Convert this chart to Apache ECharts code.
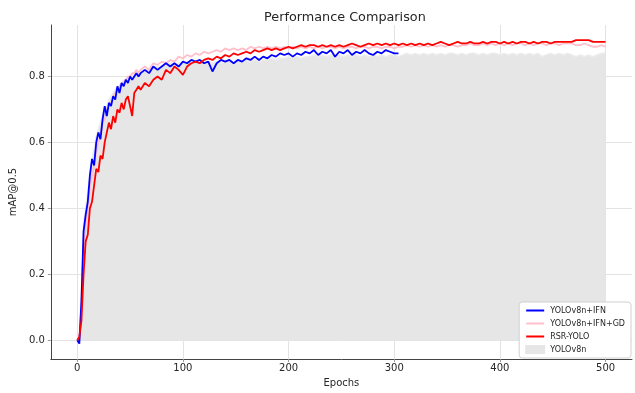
<!DOCTYPE html>
<html>
<head>
<meta charset="UTF-8">
<title>Performance Comparison</title>
<script src="https://cdn.jsdelivr.net/npm/echarts@6/dist/echarts.min.js"></script>
<style>
  html, body { margin: 0; padding: 0; background: #fff; }
  #main { width: 635px; height: 393px; }
</style>
</head>
<body>
<div id="main"></div>
<script type="text/javascript">
// epochs sampled from the curves (every 2 early, every 4 after)
var epochs = [0,2,4,6,8,10,12,14,16,18,20,22,24,26,28,30,32,34,36,38,40,42,44,46,48,50,52,54,56,58,60,
  64,68,72,76,80,84,88,92,96,100,
  104,108,112,116,120,124,128,132,136,140,
  144,148,152,156,160,164,168,172,176,180,
  184,188,192,196,200,204,208,212,216,220,
  224,228,232,236,240,244,248,252,256,260,
  264,268,272,276,280,284,288,292,296,300,
  304,308,312,316,320,324,328,332,336,340,
  344,348,352,356,360,364,368,372,376,380,
  384,388,392,396,400,404,408,412,416,420,
  424,428,432,436,440,444,448,452,456,460,
  464,468,472,476,480,484,488,492,496,500];

var ifnValues = [0.00,-0.01,0.12,0.33,0.38,0.42,0.50,0.55,0.53,0.60,0.63,0.61,0.67,0.71,0.68,0.72,0.71,0.74,0.73,0.77,0.75,0.78,0.77,0.79,0.78,0.80,0.79,0.80,0.81,0.80,0.81,
  0.82,0.81,0.83,0.82,0.83,0.84,0.83,0.84,0.83,0.845,
  0.84,0.85,0.845,0.85,0.84,0.845,0.815,0.84,0.85,0.845,
  0.85,0.84,0.85,0.845,0.855,0.85,0.86,0.85,0.86,0.855,
  0.865,0.86,0.87,0.865,0.87,0.86,0.87,0.865,0.875,0.87,
  0.88,0.865,0.875,0.87,0.88,0.86,0.875,0.87,0.88,0.865,
  0.875,0.87,0.88,0.87,0.865,0.875,0.87,0.88,0.875,0.87,0.87];

var ifnGdValues = [0.00,0.01,0.10,0.28,0.35,0.40,0.46,0.50,0.53,0.57,0.60,0.62,0.66,0.67,0.70,0.71,0.72,0.74,0.75,0.76,0.77,0.78,0.78,0.79,0.80,0.80,0.81,0.81,0.82,0.81,0.82,
  0.83,0.82,0.84,0.835,0.845,0.84,0.85,0.845,0.86,0.855,
  0.865,0.86,0.87,0.865,0.875,0.87,0.875,0.88,0.875,0.885,
  0.88,0.885,0.88,0.885,0.88,0.89,0.885,0.89,0.885,0.89,
  0.885,0.89,0.885,0.89,0.885,0.89,0.885,0.89,0.885,0.89,
  0.885,0.89,0.885,0.89,0.89,0.885,0.89,0.885,0.89,0.89,
  0.885,0.89,0.89,0.885,0.89,0.89,0.885,0.89,0.89,0.885,
  0.89,0.89,0.895,0.89,0.895,0.89,0.895,0.89,0.895,0.89,
  0.895,0.89,0.895,0.895,0.89,0.895,0.895,0.9,0.895,0.895,
  0.9,0.895,0.9,0.895,0.9,0.895,0.9,0.895,0.9,0.9,
  0.895,0.9,0.895,0.9,0.9,0.895,0.9,0.9,0.895,0.9,
  0.9,0.9,0.895,0.895,0.9,0.895,0.89,0.89,0.895,0.89];

var rsrValues = [0.00,0.01,0.06,0.20,0.30,0.32,0.40,0.42,0.47,0.52,0.51,0.56,0.55,0.60,0.63,0.66,0.64,0.68,0.66,0.70,0.69,0.72,0.70,0.73,0.74,0.71,0.68,0.75,0.76,0.77,0.76,
  0.78,0.77,0.79,0.80,0.79,0.82,0.81,0.83,0.82,0.805,
  0.83,0.84,0.845,0.84,0.85,0.855,0.85,0.86,0.855,0.865,
  0.86,0.87,0.865,0.87,0.875,0.87,0.88,0.875,0.88,0.885,
  0.88,0.885,0.88,0.885,0.89,0.885,0.89,0.895,0.89,0.895,
  0.895,0.89,0.895,0.89,0.895,0.89,0.895,0.89,0.895,0.9,
  0.895,0.89,0.895,0.9,0.895,0.9,0.895,0.9,0.895,0.9,
  0.895,0.9,0.895,0.9,0.895,0.9,0.895,0.9,0.895,0.9,
  0.905,0.9,0.895,0.9,0.905,0.9,0.9,0.905,0.9,0.9,
  0.905,0.9,0.905,0.905,0.9,0.905,0.9,0.905,0.9,0.905,
  0.905,0.9,0.905,0.9,0.905,0.905,0.9,0.905,0.905,0.905,
  0.905,0.905,0.91,0.91,0.91,0.91,0.905,0.905,0.905,0.905];

var v8nValues = [0.00,0.01,0.14,0.35,0.40,0.45,0.50,0.55,0.58,0.62,0.64,0.66,0.68,0.70,0.71,0.73,0.74,0.75,0.76,0.77,0.77,0.78,0.79,0.79,0.80,0.80,0.80,0.81,0.81,0.81,0.82,
  0.82,0.82,0.83,0.83,0.83,0.835,0.84,0.835,0.84,0.84,
  0.845,0.84,0.845,0.845,0.84,0.845,0.84,0.845,0.84,0.845,
  0.845,0.84,0.845,0.845,0.85,0.845,0.85,0.845,0.85,0.85,
  0.855,0.85,0.855,0.855,0.86,0.855,0.86,0.855,0.86,0.86,
  0.865,0.86,0.865,0.86,0.865,0.86,0.865,0.86,0.865,0.86,
  0.865,0.86,0.865,0.86,0.865,0.86,0.865,0.86,0.865,0.865,
  0.86,0.865,0.87,0.865,0.87,0.865,0.87,0.865,0.87,0.865,
  0.87,0.865,0.87,0.87,0.865,0.87,0.865,0.87,0.87,0.865,
  0.87,0.865,0.87,0.87,0.865,0.87,0.865,0.87,0.865,0.87,
  0.865,0.87,0.865,0.87,0.86,0.865,0.87,0.865,0.87,0.865,
  0.87,0.865,0.86,0.865,0.86,0.865,0.86,0.865,0.87,0.87];

var xTicks = [0, 100, 200, 300, 400, 500];
var yTicks = [0, 0.2, 0.4, 0.6, 0.8];

function pairs(xs, ys) {
  var out = [];
  for (var i = 0; i < ys.length; i++) out.push([xs[i], ys[i]]);
  return out;
}

// legend icon: a thin horizontal line inside an invisible 20x10 box
var lineIcon = 'path://M0,0 L0.01,0 L0.01,0.01 Z M0,4 L20,4 L20,6 L0,6 Z M0,10 L0.01,10 L0.01,9.99 Z';

var font = 'DejaVu Sans';
var myChart = echarts.init(document.getElementById('main'));
var option = {
  animation: false,
  title: {
    text: 'Performance Comparison',
    left: 259,
    top: 6,
    textStyle: { fontFamily: font, fontSize: 12.8, fontWeight: 'normal', color: '#262626' }
  },
  legend: {
    orient: 'vertical',
    right: 4,
    bottom: 35,
    backgroundColor: '#fff',
    borderColor: '#d0d0d0',
    borderWidth: 1,
    borderRadius: 3,
    padding: [4, 6, 4, 6],
    itemWidth: 20,
    itemHeight: 9,
    itemGap: 4,
    textStyle: { fontFamily: font, fontSize: 8, color: '#262626' },
    data: [
      { name: 'YOLOv8n+IFN', icon: lineIcon },
      { name: 'YOLOv8n+IFN+GD', icon: lineIcon },
      { name: 'RSR-YOLO', icon: lineIcon },
      { name: 'YOLOv8n', icon: 'rect' }
    ]
  },
  grid: { left: 50, right: 3, top: 25, bottom: 31 },
  xAxis: {
    type: 'value',
    min: -25,
    max: 525,
    name: 'Epochs',
    nameLocation: 'middle',
    nameGap: 17,
    nameTextStyle: { fontFamily: font, fontSize: 10, color: '#262626', verticalAlign: 'top' },
    axisLine: { onZero: false, lineStyle: { color: '#444', width: 1 } },
    axisTick: { customValues: xTicks, length: 3, lineStyle: { color: '#999' } },
    axisLabel: { customValues: xTicks, fontFamily: font, fontSize: 10, color: '#262626', margin: 4 },
    splitLine: { show: true, lineStyle: { color: '#e3e3e3', width: 1 } }
  },
  yAxis: {
    type: 'value',
    min: -0.057,
    max: 0.956,
    name: 'mAP@0.5',
    nameLocation: 'middle',
    nameGap: 22,
    nameTextStyle: { fontFamily: font, fontSize: 10, color: '#262626' },
    axisLine: { show: true, onZero: false, lineStyle: { color: '#444', width: 1 } },
    axisTick: { show: true, customValues: yTicks, length: 3, lineStyle: { color: '#999' } },
    axisLabel: {
      customValues: yTicks, fontFamily: font, fontSize: 10, color: '#262626', margin: 6,
      formatter: function (v) { return v.toFixed(1); }
    },
    splitLine: { show: true, lineStyle: { color: '#e3e3e3', width: 1 } }
  },
  series: [{
    name: 'YOLOv8n',
    type: 'line',
    data: pairs(epochs, v8nValues),
    symbol: 'none',
    z: 1,
    color: '#e6e6e6',
    lineStyle: { color: '#ececec', width: 1.5 },
    areaStyle: { color: '#e6e6e6', opacity: 1, origin: 0 }
  }, {
    name: 'YOLOv8n+IFN',
    type: 'line',
    data: pairs(epochs, ifnValues),
    symbol: 'none',
    z: 3,
    color: '#0000ff',
    lineStyle: { color: '#0000ff', width: 1.8 }
  }, {
    name: 'YOLOv8n+IFN+GD',
    type: 'line',
    data: pairs(epochs, ifnGdValues),
    symbol: 'none',
    z: 2,
    color: '#ffc0cb',
    lineStyle: { color: '#ffc0cb', width: 1.8 }
  }, {
    name: 'RSR-YOLO',
    type: 'line',
    data: pairs(epochs, rsrValues),
    symbol: 'none',
    z: 4,
    color: '#ff0000',
    lineStyle: { color: '#ff0000', width: 1.8 }
  }]
};
myChart.setOption(option);
</script>
</body>
</html>
